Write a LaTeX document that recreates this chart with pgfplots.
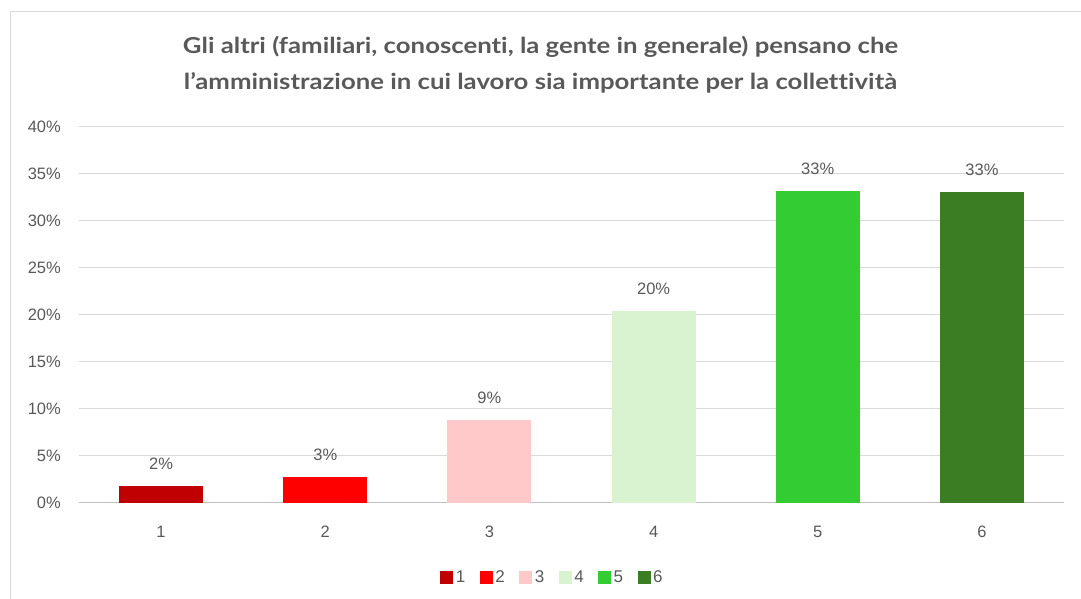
\documentclass[border=0pt]{standalone}
\usepackage{pgfplots}
\pgfplotsset{compat=1.18}
\usepackage{fontspec}
\setmainfont{Liberation Sans}
\newfontfamily\titlefont[Ligatures=NoCommon]{Lato}
\definecolor{txt}{HTML}{595959}
\definecolor{gridc}{HTML}{D9D9D9}
\definecolor{basec}{HTML}{BFBFBF}
\definecolor{c1}{HTML}{C00000}
\definecolor{c2}{HTML}{FF0000}
\definecolor{c3}{HTML}{FFC9C9}
\definecolor{c4}{HTML}{D9F2D0}
\definecolor{c5}{HTML}{33CC33}
\definecolor{c6}{HTML}{3A7D22}
\pgfplotsset{
  mybar/.style={draw=none, fill=#1, bar width=84pt, bar shift=0pt,
    legend image code/.code={\path[fill=#1] (0pt,-6.5pt) rectangle (13pt,6.5pt);}},
}
\begin{document}
\begin{tikzpicture}[x=1pt,y=1pt]
\path[use as bounding box] (0,0) rectangle (1081,599);
\draw[gridc, line width=1pt] (10.5,0) -- (10.5,587.5) -- (1081,587.5);
\node[font=\titlefont\bfseries\fontsize{22}{36}\selectfont, text=txt, align=center] at (540.5,534)
  {\scalebox{1.17}[1]{Gli altri (familiari, conoscenti, la gente in generale) pensano che}\\
   \scalebox{1.17}[1]{l’amministrazione in cui lavoro sia importante per la collettività}};
\begin{axis}[
  at={(79pt,96pt)}, anchor=south west,
  scale only axis, width=985pt, height=376pt,
  xmin=0.5, xmax=6.5, ymin=0, ymax=40,
  xtick={1,...,6}, ytick={0,5,...,40},
  yticklabel={\pgfmathprintnumber{\tick}\%},
  axis line style={draw=none},
  major tick length=0pt,
  ymajorgrids, grid style={gridc, line width=1pt},
  ybar,
  ticklabel style={font=\fontsize{16.5}{19}\selectfont, text=txt},
  yticklabel style={inner sep=0pt, xshift=-18pt},
  xticklabel style={inner sep=0pt, anchor=north, yshift=-23pt},
  /pgf/number format/assume math mode=true,
  nodes near coords={\pgfmathprintnumber[fixed,precision=0]{\pgfplotspointmeta}\%},
  every node near coord/.append style={font=\fontsize{16.5}{19}\selectfont, text=txt, anchor=base, inner sep=0pt, yshift=16.5pt},
  legend columns=6,
  legend style={draw=none, fill=none, at={(axis description cs:0.481,-0.197)}, anchor=center,
    font=\fontsize{17}{19}\selectfont, text=txt,
    /tikz/every even column/.append style={column sep=12pt},
    nodes={inner sep=2.5pt}},
]
\draw[basec, line width=1.5pt] (axis cs:0.5,0) -- (axis cs:6.5,0);
\addplot[mybar=c1] coordinates {(1,1.8)};
\addplot[mybar=c2] coordinates {(2,2.8)};
\addplot[mybar=c3] coordinates {(3,8.8)};
\addplot[mybar=c4] coordinates {(4,20.4)};
\addplot[mybar=c5] coordinates {(5,33.2)};
\addplot[mybar=c6] coordinates {(6,33.1)};
\legend{1,2,3,4,5,6}
\end{axis}
\end{tikzpicture}
\end{document}
